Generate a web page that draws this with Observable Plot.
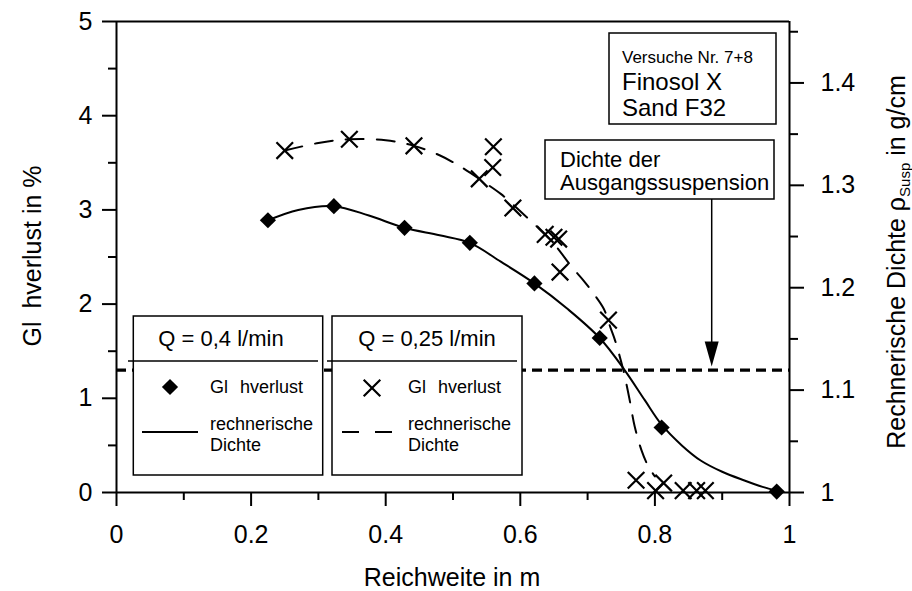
<!DOCTYPE html>
<html><head><meta charset="utf-8">
<script src="https://cdn.jsdelivr.net/npm/d3@7"></script>
<script src="https://cdn.jsdelivr.net/npm/@observablehq/plot@0.6"></script>
<style>
html,body{margin:0;padding:0;background:#fff;}
#chart svg{display:block;}
</style></head><body><div id="chart"></div>
<script>
// ---- data ----
const xTicks = [0, 0.2, 0.4, 0.6, 0.8, 1];
const xTickLabels = ["0", "0.2", "0.4", "0.6", "0.8", "1"];
const xMinor = [0.1, 0.3, 0.5, 0.7, 0.9];
const yTicks = [0, 1, 2, 3, 4, 5];
const yTickLabels = ["0", "1", "2", "3", "4", "5"];
const yMinor = [0.5, 1.5, 2.5, 3.5, 4.5];
const rhoDomain = [1, 1.46];
const rhoTicks = [1, 1.1, 1.2, 1.3, 1.4];
const rhoTickLabels = ["1", "1.1", "1.2", "1.3", "1.4"];
const rhoMinor = [1.05, 1.15, 1.25, 1.35, 1.45];

// Q = 0,4 l/min : Glühverlust (diamonds)
const q04X = [0.225, 0.323, 0.428, 0.525, 0.621, 0.718, 0.81, 0.981];
const q04Y = [2.89, 3.04, 2.81, 2.65, 2.22, 1.64, 0.69, 0.01];
// Q = 0,4 l/min : rechnerische Dichte (solid), in left-axis units
const q04CurveX = [0.225, 0.27, 0.323, 0.375, 0.428, 0.48, 0.525, 0.571, 0.621, 0.67, 0.718, 0.755, 0.785, 0.81, 0.84, 0.868, 0.90, 0.932, 0.96, 0.981];
const q04CurveY = [2.89, 3.0, 3.04, 2.94, 2.81, 2.73, 2.65, 2.45, 2.22, 1.95, 1.64, 1.30, 0.98, 0.72, 0.50, 0.34, 0.22, 0.13, 0.06, 0.02];

// Q = 0,25 l/min : Glühverlust (crosses)
const q025X = [0.250, 0.346, 0.442, 0.560, 0.559, 0.539, 0.589, 0.637, 0.650, 0.657, 0.659, 0.731, 0.772, 0.801, 0.813, 0.842, 0.862, 0.875];
const q025Y = [3.63, 3.75, 3.68, 3.67, 3.45, 3.33, 3.02, 2.74, 2.71, 2.69, 2.34, 1.83, 0.13, 0.02, 0.10, 0.02, 0.02, 0.02];
// Q = 0,25 l/min : rechnerische Dichte (dashed)
const q025CurveX = [0.25, 0.30, 0.346, 0.40, 0.442, 0.48, 0.511, 0.545, 0.571, 0.59, 0.61, 0.625, 0.65, 0.677, 0.694, 0.709, 0.724, 0.734, 0.741, 0.753, 0.762, 0.77, 0.78, 0.79, 0.80];
const q025CurveY = [3.63, 3.71, 3.75, 3.74, 3.68, 3.58, 3.46, 3.30, 3.17, 3.05, 2.92, 2.82, 2.64, 2.39, 2.25, 2.11, 1.95, 1.75, 1.61, 1.30, 1.0, 0.7, 0.45, 0.28, 0.17];

// density of the starting suspension (left-axis units)
const refLevel = 1.3;

// ---- build ----
const FONT = "'Liberation Sans', Arial, Helvetica, sans-serif";
const yMax = 5;
const toY = r => (r - rhoDomain[0]) / (rhoDomain[1] - rhoDomain[0]) * yMax;
const rhoPos = rhoTicks.map(toY);
const rhoLabelMap = new Map(rhoPos.map((p, i) => [p, rhoTickLabels[i]]));
const xLabelMap = new Map(xTicks.map((t, i) => [t, xTickLabels[i]]));
const yLabelMap = new Map(yTicks.map((t, i) => [t, yTickLabels[i]]));

const zip = (xs, ys) => xs.map((x, i) => ({x, y: ys[i]}));
const q04 = zip(q04X, q04Y), q04c = zip(q04CurveX, q04CurveY);
const q025 = zip(q025X, q025Y), q025c = zip(q025CurveX, q025CurveY);

const AX = {strokeWidth: 2, label: null, fontSize: 25};
const plot = Plot.plot({
  width: 912, height: 591,
  marginLeft: 116, marginRight: 123, marginTop: 21, marginBottom: 99,
  x: {domain: [0, 1]},
  y: {domain: [0, yMax]},
  style: {fontFamily: FONT, fontSize: "25px", color: "#000", background: "#fff", overflow: "visible"},
  marks: [
    Plot.ruleY([refLevel], {stroke: "#000", strokeWidth: 3.2, strokeDasharray: "10,6"}),
    Plot.line(q04c, {x: "x", y: "y", curve: "catmull-rom", stroke: "#000", strokeWidth: 2}),
    Plot.line(q025c, {x: "x", y: "y", curve: "catmull-rom", stroke: "#000", strokeWidth: 2, strokeDasharray: "18,13"}),
    Plot.dot(q04, {x: "x", y: "y", symbol: "diamond2", r: 7.3, fill: "#000", stroke: "none"}),
    Plot.dot(q025, {x: "x", y: "y", symbol: "times", r: 7.6, stroke: "#000", strokeWidth: 2.2}),
    // frame
    Plot.ruleX([0, 1], {stroke: "#000", strokeWidth: 2}),
    Plot.ruleY([0, yMax], {stroke: "#000", strokeWidth: 2}),
    // axes
    Plot.axisY({...AX, ticks: yTicks, tickSize: 14, tickPadding: 10, tickFormat: v => yLabelMap.get(v)}),
    Plot.axisY({...AX, ticks: yMinor, tickSize: 8, tickFormat: () => ""}),
    Plot.axisY({...AX, anchor: "right", ticks: rhoPos, tickSize: 14, tickPadding: 17, tickFormat: v => rhoLabelMap.get(v)}),
    Plot.axisY({...AX, anchor: "right", ticks: rhoMinor.map(toY), tickSize: 8, tickFormat: () => ""}),
    Plot.axisX({...AX, ticks: xTicks, tickSize: 14, tickPadding: 19, tickFormat: v => xLabelMap.get(v)}),
    Plot.axisX({...AX, ticks: xMinor, tickSize: 8, tickFormat: () => ""})
  ]
});
document.getElementById("chart").appendChild(plot);

// ---- annotations, legends, titles ----
const ys = plot.scale("y");
const svg = d3.select(plot);
const g = svg.append("g").attr("font-family", FONT).attr("fill", "#000").attr("text-anchor", "start");
const rect = (x0, y0, x1, y1) => g.append("rect").attr("x", x0).attr("y", y0)
  .attr("width", x1 - x0).attr("height", y1 - y0).attr("fill", "#fff").attr("stroke", "#000").attr("stroke-width", 1.5);
const text = (x, y, s, size, anchor = "start") => g.append("text").attr("x", x).attr("y", y)
  .attr("font-size", size).attr("text-anchor", anchor).text(s);
const gapText = (x, y, a, b, size, gap, anchor = "start") => {
  const t = g.append("text").attr("x", x).attr("y", y).attr("font-size", size).attr("text-anchor", anchor);
  t.append("tspan").text(a + " ");
  t.append("tspan").attr("dx", gap).text(b);
  return t;
};
const hline = (x0, x1, y, w = 1.5, dash = null) => g.append("line").attr("x1", x0).attr("x2", x1)
  .attr("y1", y).attr("y2", y).attr("stroke", "#000").attr("stroke-width", w).attr("stroke-dasharray", dash);

// info box
rect(609, 33, 776, 124);
text(622, 63, "Versuche Nr. 7+8", 17);
text(622, 90, "Finosol X", 24);
text(622, 116, "Sand F32", 24);

// density box + arrow
rect(545, 140, 774, 199);
text(560, 167, "Dichte der", 22);
text(560, 190, "Ausgangssuspension", 22);
const ax = 711.7, tipY = ys.apply(refLevel) - 3;
g.append("line").attr("x1", ax).attr("x2", ax).attr("y1", 199).attr("y2", tipY - 20)
  .attr("stroke", "#000").attr("stroke-width", 1.5);
g.append("path").attr("d", `M${ax - 7},${tipY - 25}L${ax + 7},${tipY - 25}L${ax},${tipY}Z`).attr("fill", "#000");

// legend A
rect(133.3, 316, 322.7, 475);
text(221, 346, "Q = 0,4 l/min", 22, "middle");
hline(128, 318, 361);
g.append("path").attr("transform", "translate(170,387)")
  .attr("d", d3.symbol(d3.symbolDiamond2, Math.PI * 7.3 * 7.3)()).attr("fill", "#000");
gapText(210, 393, "Gl", "hverlust", 18, 7);
hline(142, 198, 432, 2);
text(210, 430, "rechnerische", 18);
text(210, 451, "Dichte", 18);

// legend B
rect(332, 316, 522, 475);
text(427, 346, "Q = 0,25 l/min", 22, "middle");
hline(327, 517, 361);
g.append("path").attr("transform", "translate(372,388)")
  .attr("d", d3.symbol(d3.symbolTimes, Math.PI * 7.6 * 7.6)()).attr("fill", "none")
  .attr("stroke", "#000").attr("stroke-width", 2.2);
gapText(408, 393, "Gl", "hverlust", 18, 7);
hline(342, 395, 432, 2, "17,16");
text(408, 430, "rechnerische", 18);
text(408, 451, "Dichte", 18);

// axis titles
text(452, 586, "Reichweite in m", 25, "middle");
gapText(0, 0, "Gl", "hverlust in %", 25, 6, "middle")
  .attr("transform", "translate(41,256) rotate(-90)");
const rt = g.append("text").attr("transform", "translate(905,262) rotate(-90)").attr("text-anchor", "middle")
  .attr("font-size", 25);
rt.append("tspan").text("Rechnerische Dichte ρ");
rt.append("tspan").attr("font-size", 15).attr("dy", 5).text("Susp");
rt.append("tspan").attr("dy", -5).text(" in g/cm");
</script></body></html>
